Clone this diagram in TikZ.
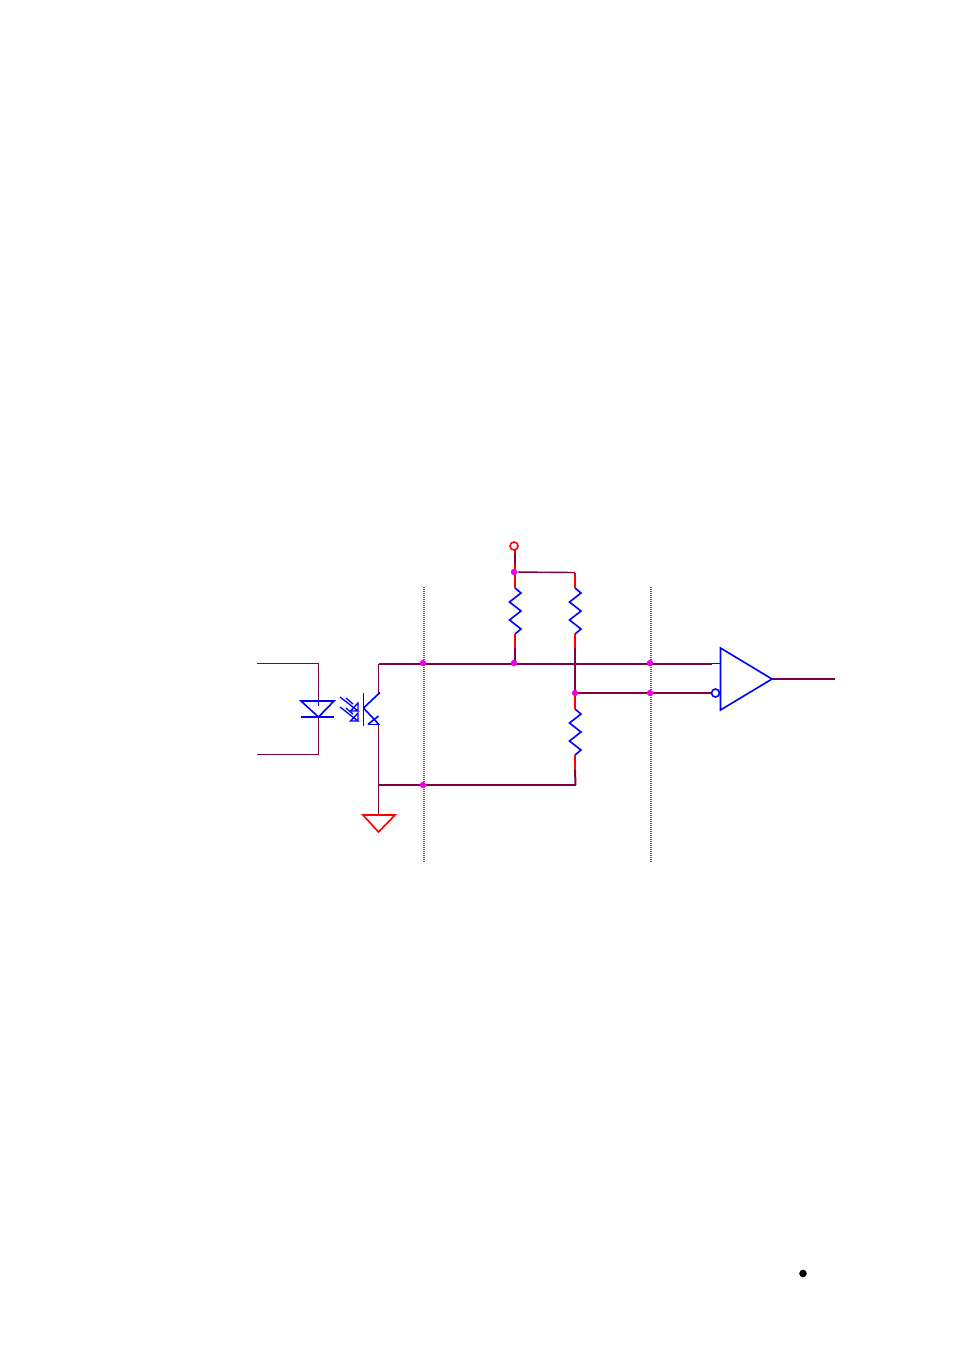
\documentclass[tikz,border=0pt]{standalone}
\usepackage{tikz}
\usetikzlibrary{backgrounds}
\definecolor{wirecol}{RGB}{128,0,64}
\definecolor{dotcol}{RGB}{240,0,230}
\tikzset{
  thinwire/.style={draw=wirecol, line width=1.4pt},
  wire/.style={draw=wirecol, line width=2pt},
  heavywire/.style={draw=wirecol, line width=2.3pt},
  redwire/.style={draw=red, line width=2pt},
  part/.style={draw=blue, line width=1.6pt},
  smallpart/.style={draw=blue, line width=1.3pt},
  barrier/.style={draw=black!65, line width=1.5pt, dash pattern=on 1pt off 1pt},
  junction/.style={circle, fill=dotcol, inner sep=0pt, minimum size=6.4pt},
  ring/.style={circle, draw=#1, fill=white, line width=1.6pt, inner sep=0pt, minimum size=8pt},
}
\begin{document}
\begin{tikzpicture}[x=1pt,y=-1pt]
\useasboundingbox (0,0) rectangle (954,1352);
\coordinate (ledinA) at (257,663.5);
\coordinate (ledinB) at (257,754.5);
\coordinate (ledtopcorner) at (318.5,663.5);
\coordinate (ledbotcorner) at (318.5,754.5);
\coordinate (ledtop) at (318.5,701);
\coordinate (ledbot) at (318.5,717);
\coordinate (collector) at (378.5,693);
\coordinate (emitter) at (378.5,724);
\coordinate (railstart) at (378.5,663.5);
\coordinate (gndtop) at (378.5,815);
\coordinate (busend) at (575.5,785);
\coordinate (branchtop) at (575,572.5);
\coordinate (inplus) at (712,663.5);
\coordinate (cmpplus) at (720.5,663.5);
\coordinate (cmpout) at (772,679);
\coordinate (outend) at (835,679);
\coordinate (onejoin) at (515,648);
\coordinate (twojoin) at (575,648);
\coordinate (threejoin) at (575,770);
\node[ring=red] (vcc) at (514,546) {};
\node[ring=blue] (bubble) at (715.5,693) {};
\node[junction] (jtop) at (514,572) {};
\node[junction] (jrailA) at (423,663) {};
\node[junction] (jrailB) at (514,663) {};
\node[junction] (jrailC) at (650,663) {};
\node[junction] (jmid) at (575,693) {};
\node[junction] (jmidB) at (650,693) {};
\node[junction] (jbus) at (423,785) {};
\begin{pgfonlayer}{background}
\foreach \rname/\rx/\ry in {rone/515/588,rtwo/575/588,rthree/575/709}{
  \coordinate (\rname top) at (\rx,\ry);
  \coordinate (\rname bot) at (\rx,\ry+46);
  \draw[part] (\rname top) -- ++(6,5) -- ++(-11.5,9) -- ++(11.5,9) -- ++(-11.5,9) -- ++(11.5,9) -- (\rname bot);
}
\draw[barrier] (424,587) -- (424,862);
\draw[barrier] (651,587) -- (651,862);
\draw[redwire] (515,550) -- (ronetop);
\draw[redwire] (ronebot) -- (onejoin);
\draw[redwire] (branchtop) -- (rtwotop);
\draw[redwire] (rtwobot) -- (twojoin);
\draw[redwire] (575,693) -- (rthreetop);
\draw[redwire] (rthreebot) -- (threejoin);
\draw[thinwire] (515,553) -- (515,564);
\draw[thinwire] (onejoin) -- (515,663);
\draw[wire] (twojoin) -- (575,693);
\draw[wire] (threejoin) -- (busend);
\draw[thinwire] (jtop) -- (branchtop);
\draw[thinwire] (ledinA) -- (ledtopcorner) -- (ledtop);
\draw[thinwire] (ledinB) -- (ledbotcorner) -- (ledbot);
\draw[thinwire] (collector) -- (railstart);
\draw[wire] (railstart) -- (inplus);
\draw[thinwire] (emitter) -- (gndtop);
\draw[heavywire] (railstart |- jbus) -- (busend);
\draw[heavywire] (jmid) -- (bubble);
\draw[wire] (cmpout) -- (outend);
\end{pgfonlayer}
\draw[part] (inplus) -- (cmpplus);
\draw[part] (720.5,648) -- (cmpout) -- (720.5,710) -- cycle;
\draw[part] (301,701) -- (334,701) -- (ledbot) -- cycle;
\draw[part] (301,717) -- (334,717);
\draw[part] (ledtop) -- (318.5,706);
\draw[part] (363.5,693) -- (363.5,726);
\draw[part] (363.5,708) -- (380,692.5);
\draw[part] (363.5,708) -- (emitter);
\draw[part] (368,724.3) -- (380,724.3);
\draw[part] (368,724.3) -- (378.5,716);
\draw[smallpart] (340,697) -- (358,711) -- (350.5,711) -- (358,703) -- (358,711);
\draw[smallpart] (346,698) -- (353,704);
\draw[smallpart] (340,707) -- (358,721) -- (350.5,721) -- (358,713) -- (358,721);
\draw[smallpart] (346,708) -- (353,714);
\draw[red, line width=1.6pt] (363,815) -- (395,815) -- (378.5,832) -- cycle;
\fill[black] (803,1273.5) circle (3.8);
\end{tikzpicture}
\end{document}
